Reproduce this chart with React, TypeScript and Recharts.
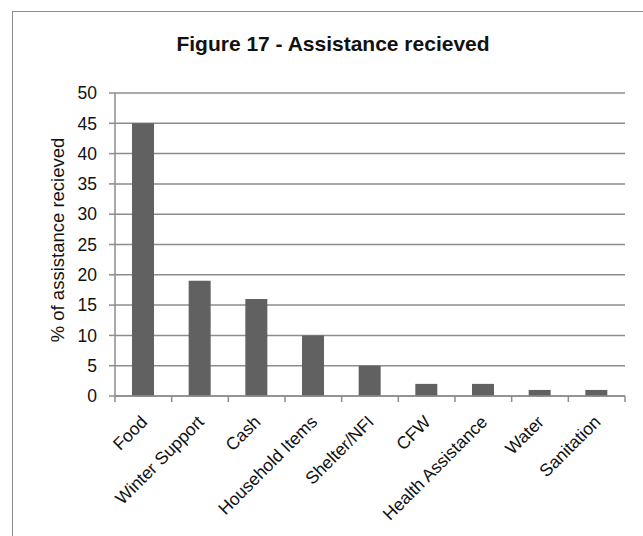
import React from 'react';
import { BarChart, Bar, XAxis, YAxis, CartesianGrid } from 'recharts';

const categories = [
  'Food',
  'Winter Support',
  'Cash',
  'Household Items',
  'Shelter/NFI',
  'CFW',
  'Health Assistance',
  'Water',
  'Sanitation',
];
const assistanceValues = [45, 19, 16, 10, 5, 2, 2, 1, 1];
const yTicks = [0, 5, 10, 15, 20, 25, 30, 35, 40, 45, 50];

const data = categories.map((name, i) => ({ name, value: assistanceValues[i] }));

const FONT = '"Liberation Sans", Arial, sans-serif';
const CHART_W = 643;
const CHART_H = 536;
const X_AXIS_H = 40;
const MARGIN = { top: 93, right: 18, bottom: 100, left: 70 };
const Y_AXIS_W = 45;
const PLOT_W = CHART_W - MARGIN.left - MARGIN.right - Y_AXIS_W;

// tick marks sit between categories, like the original spreadsheet chart
const CategoryTick = (props: any) => {
  const { x, y, payload, index } = props;
  const band = PLOT_W / categories.length;
  const left = x - band / 2;
  return (
    <g>
      <line x1={left} y1={y - 8} x2={left} y2={y - 2} stroke="#8c8c8c" strokeWidth={1.5} />
      {index === categories.length - 1 && (
        <line x1={left + band} y1={y - 8} x2={left + band} y2={y - 2} stroke="#8c8c8c" strokeWidth={1.5} />
      )}
      <text
        x={0}
        y={0}
        transform={`translate(${x + 5}, ${y + 19}) rotate(-45)`}
        textAnchor="end"
        fontSize={17.5}
        fontFamily={FONT}
        fill="#111"
      >
        {payload.value}
      </text>
    </g>
  );
};

export default function App() {
  return (
    <div style={{ position: 'absolute', left: 0, top: 0, width: CHART_W, height: CHART_H, background: '#fff', overflow: 'hidden' }}>
      <div
        style={{
          position: 'absolute',
          left: 12,
          top: 11,
          width: 640,
          height: 540,
          border: '1.5px solid #8c8c8c',
          boxSizing: 'border-box',
        }}
      />
      <div
        style={{
          position: 'absolute',
          left: 0,
          top: 32,
          width: 666,
          textAlign: 'center',
          fontFamily: FONT,
          fontWeight: 'bold',
          fontSize: 21,
          color: '#111',
        }}
      >
        Figure 17 - Assistance recieved
      </div>
      <div
        style={{
          position: 'absolute',
          left: 58,
          top: 240,
          transform: 'translate(-50%, -50%) rotate(-90deg)',
          whiteSpace: 'nowrap',
          fontFamily: FONT,
          fontSize: 18.5,
          color: '#111',
        }}
      >
        % of assistance recieved
      </div>
      <div style={{ position: 'absolute', left: 0, top: 0 }}>
        <BarChart width={CHART_W} height={CHART_H} data={data} margin={MARGIN}>
          <CartesianGrid vertical={false} stroke="#8c8c8c" strokeWidth={1.5} />
          <XAxis
            dataKey="name"
            interval={0}
            tickLine={false}
            axisLine={{ stroke: '#8c8c8c', strokeWidth: 1.5 }}
            tick={<CategoryTick />}
            height={X_AXIS_H}
          />
          <YAxis
            width={Y_AXIS_W}
            domain={[0, 50]}
            ticks={yTicks}
            interval={0}
            axisLine={{ stroke: '#8c8c8c', strokeWidth: 1.5 }}
            tickLine={{ stroke: '#8c8c8c', strokeWidth: 1.5 }}
            tickSize={6}
            tickMargin={12}
            tick={{ fontSize: 17.5, fontFamily: FONT, fill: '#111' }}
          />
          <Bar dataKey="value" fill="#616161" barSize={22} isAnimationActive={false} />
        </BarChart>
      </div>
    </div>
  );
}
